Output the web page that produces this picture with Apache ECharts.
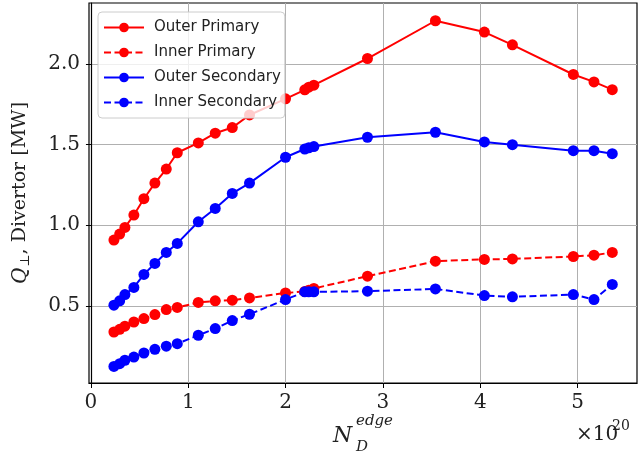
<!DOCTYPE html>
<html><head><meta charset="utf-8">
<script src="https://cdn.jsdelivr.net/npm/echarts@6/dist/echarts.min.js"></script>
<style>html,body{margin:0;padding:0;background:#fff}#c{width:638px;height:461px}</style>
</head><body><div id="c"></div>
<script>
const xValues = [0.236,0.295,0.349,0.441,0.544,0.657,0.774,0.887,1.103,1.277,1.452,1.629,1.999,2.197,2.238,2.290,2.841,3.539,4.042,4.330,4.956,5.168,5.356];
const outerPrimary = [0.908,0.945,0.986,1.063,1.164,1.261,1.348,1.449,1.510,1.570,1.605,1.683,1.783,1.839,1.855,1.868,2.033,2.267,2.197,2.118,1.934,1.888,1.840];
const innerPrimary = [0.338,0.355,0.374,0.400,0.421,0.446,0.477,0.490,0.521,0.531,0.535,0.549,0.580,0.589,0.597,0.608,0.684,0.777,0.788,0.791,0.806,0.814,0.831];
const outerSecondary = [0.504,0.531,0.570,0.614,0.695,0.763,0.831,0.887,1.021,1.104,1.197,1.261,1.421,1.472,1.480,1.487,1.545,1.576,1.516,1.499,1.462,1.462,1.443];
const innerSecondary = [0.125,0.142,0.163,0.183,0.208,0.231,0.250,0.266,0.318,0.359,0.409,0.448,0.539,0.587,0.587,0.587,0.591,0.605,0.564,0.556,0.570,0.539,0.633];
const seriesNames = ['Outer Primary','Inner Primary','Outer Secondary','Inner Secondary'];
const xTicks = [0,1,2,3,4,5];
const yTicks = [0.5,1.0,1.5,2.0];

const pair = ys => xValues.map((x,i)=>[x,ys[i]]);
const mk = (name, ys, color, dashed) => ({
  name, type:'line', data: pair(ys), symbol:'circle', symbolSize:11,
  itemStyle:{color}, lineStyle:{color, width:2, type: dashed ? [7,3.5] : 'solid'},
  emphasis:{disabled:true}, animation:false, z: 3
});
const serif = 'DejaVu Serif';
const chart = echarts.init(document.getElementById('c'));
chart.setOption({
  animation:false,
  grid:{left:89, right:1, top:3, bottom:78, show:true, borderColor:'#000', borderWidth:1.2, backgroundColor:'transparent'},
  legend:{
    orient:'vertical', left:98, top:12, data:seriesNames,
    itemWidth:40, itemHeight:12, itemGap:10,
    padding:[8,4,8,5], backgroundColor:'rgba(255,255,255,0.8)', borderColor:'#cccccc', borderWidth:1, borderRadius:4,
    textStyle:{fontFamily:'DejaVu Sans', fontSize:15, color:'#222', padding:[0,0,0,5]}
  },
  xAxis:{
    type:'value', min:-0.02, max:5.61,
    axisLine:{show:true, lineStyle:{color:'#000', width:1.2}},
    axisTick:{show:true, inside:false, length:5, lineStyle:{color:'#000'}, customValues:xTicks},
    axisLabel:{customValues:xTicks, margin:10, fontFamily:serif, fontSize:20, color:'#222', formatter:v=>String(v)},
    splitLine:{show:true, lineStyle:{color:'#b0b0b0', width:1}}
  },
  yAxis:{
    type:'value', min:0.022, max:2.377,
    axisLine:{show:true, lineStyle:{color:'#000', width:1.2}},
    axisTick:{show:true, inside:false, length:5, lineStyle:{color:'#000'}, customValues:yTicks},
    axisLabel:{customValues:yTicks, margin:9, fontFamily:serif, fontSize:20, color:'#222', formatter:v=>v.toFixed(1)},
    splitLine:{show:true, lineStyle:{color:'#b0b0b0', width:1}},
    name:'{q|Q}{s|⊥}{t|, Divertor [MW]}', nameLocation:'middle', nameGap:57,
    nameTextStyle:{rich:{
      q:{fontFamily:serif, fontStyle:'italic', fontSize:20, color:'#222'},
      s:{fontFamily:serif, fontSize:13, color:'#222', padding:[10,0,0,1]},
      t:{fontFamily:serif, fontSize:19, color:'#222'}
    }}
  },
  graphic:[
    {type:'text', left:333, top:425, style:{text:'N', font:'italic 22px "DejaVu Serif"', fill:'#222'}},
    {type:'text', left:356, top:414, style:{text:'edge', font:'italic 15px "DejaVu Serif"', fill:'#222'}},
    {type:'text', left:356, top:440, style:{text:'D', font:'italic 15px "DejaVu Serif"', fill:'#222'}},
    {type:'text', left:576, top:425, style:{text:'×10', font:'20px "DejaVu Serif"', fill:'#222'}},
    {type:'text', left:612, top:419, style:{text:'20', font:'14px "DejaVu Serif"', fill:'#222'}}
  ],
  series:[
    mk(seriesNames[0], outerPrimary, '#ff0000', false),
    mk(seriesNames[1], innerPrimary, '#ff0000', true),
    mk(seriesNames[2], outerSecondary, '#0000ff', false),
    mk(seriesNames[3], innerSecondary, '#0000ff', true)
  ]
});
</script></body></html>
